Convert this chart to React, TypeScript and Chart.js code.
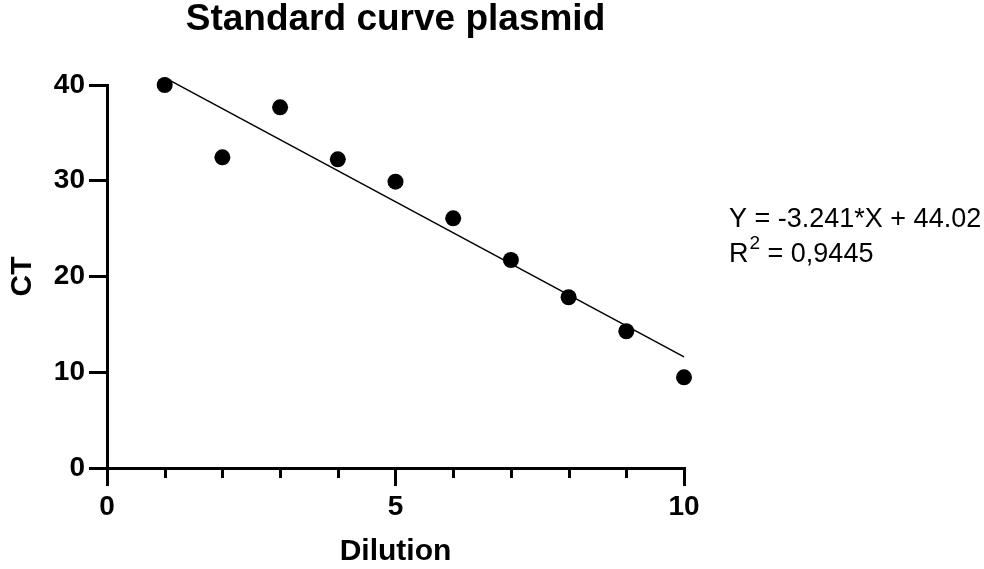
import React, { useEffect, useRef } from "react";
import { Chart, registerables } from "chart.js";

Chart.register(...registerables);

const dilution = [1, 2, 3, 4, 5, 6, 7, 8, 9, 10];
const ctValues = [40.0, 32.45, 37.67, 32.24, 29.9, 26.08, 21.72, 17.83, 14.28, 9.47];
const fitSlope = -3.241;
const fitIntercept = 44.02;
const fitRange = [1, 10];
const minorXTicks = [1, 2, 3, 4, 6, 7, 8, 9];
const titleText = "Standard curve plasmid";
const xTitle = "Dilution";
const yTitle = "CT";
const equationText = "Y = -3.241*X + 44.02";
const r2Value = "0,9445";

const FONT = "'Liberation Sans', Arial, Helvetica, sans-serif";

export default function App() {
  const ref = useRef<HTMLCanvasElement | null>(null);

  useEffect(() => {
    if (!ref.current) return;
    const extras = {
      id: "extras",
      afterDraw(chart: any) {
        const { ctx, chartArea, scales } = chart;
        const xs = scales.x;
        ctx.save();
        // minor ticks
        ctx.strokeStyle = "#000";
        ctx.lineWidth = 3;
        ctx.lineCap = "butt";
        minorXTicks.forEach((v) => {
          const px = Math.round(xs.getPixelForValue(v)) + 0.5;
          ctx.beginPath();
          ctx.moveTo(px, chartArea.bottom);
          ctx.lineTo(px, chartArea.bottom + 10);
          ctx.stroke();
        });
        // title
        ctx.fillStyle = "#000";
        ctx.font = `bold 37px ${FONT}`;
        ctx.textAlign = "center";
        ctx.textBaseline = "alphabetic";
        ctx.fillText(titleText, (chartArea.left + chartArea.right) / 2, 30);
        // equation
        ctx.textAlign = "left";
        ctx.font = `27px ${FONT}`;
        ctx.fillText(equationText, 729, 227);
        ctx.fillText("R", 729, 262);
        const rw = ctx.measureText("R").width;
        ctx.font = `19px ${FONT}`;
        ctx.fillText("2", 729 + rw + 1, 249);
        const sw = ctx.measureText("2").width;
        ctx.font = `27px ${FONT}`;
        ctx.fillText(" = " + r2Value, 729 + rw + 1 + sw, 262);
        ctx.restore();
      },
    };

    const chart = new Chart(ref.current, {
      type: "scatter",
      data: {
        datasets: [
          {
            label: "CT",
            data: dilution.map((x, i) => ({ x, y: ctValues[i] })),
            backgroundColor: "#000",
            borderColor: "#000",
            borderWidth: 0,
            pointRadius: 8,
            clip: false as any,
          },
          {
            label: "fit",
            data: fitRange.map((x) => ({ x, y: fitSlope * x + fitIntercept })),
            showLine: true,
            borderColor: "#000",
            borderWidth: 1.5,
            pointRadius: 0,
            clip: false as any,
          },
        ],
      },
      options: {
        animation: false,
        responsive: false,
        devicePixelRatio: 1,
        layout: { padding: { top: 85, right: 300, bottom: 0, left: 0 } },
        plugins: {
          legend: { display: false },
          title: { display: false },
          tooltip: { enabled: false },
        },
        scales: {
          x: {
            type: "linear",
            min: 0,
            max: 10,
            ticks: {
              stepSize: 5,
              color: "#000",
              font: { family: FONT, size: 28, weight: "bold" },
              padding: 4,
            },
            grid: {
              drawOnChartArea: false,
              drawTicks: true,
              tickLength: 18,
              lineWidth: 3,
              color: "#000",
            },
            border: { display: true, width: 3, color: "#000" },
            title: {
              display: true,
              text: xTitle,
              color: "#000",
              font: { family: FONT, size: 30, weight: "bold" },
              padding: { top: 0, bottom: -1 },
            },
            afterFit: (s: any) => {
              s.height = 101;
            },
          },
          y: {
            type: "linear",
            min: 0,
            max: 40,
            ticks: {
              stepSize: 10,
              color: "#000",
              font: { family: FONT, size: 28, weight: "bold" },
              padding: 4,
            },
            grid: {
              drawOnChartArea: false,
              drawTicks: true,
              tickLength: 18,
              lineWidth: 3,
              color: "#000",
            },
            border: { display: true, width: 3, color: "#000" },
            title: {
              display: true,
              text: yTitle,
              color: "#000",
              font: { family: FONT, size: 30, weight: "bold" },
              padding: { top: 5, bottom: 0 },
            },
            afterFit: (s: any) => {
              s.width = 107;
            },
          },
        },
      } as any,
      plugins: [extras],
    });
    return () => chart.destroy();
  }, []);

  return (
    <div style={{ position: "absolute", left: 0, top: 0, width: 984, height: 569, background: "#fff" }}>
      <canvas ref={ref} width={984} height={569} style={{ display: "block" }} />
    </div>
  );
}
